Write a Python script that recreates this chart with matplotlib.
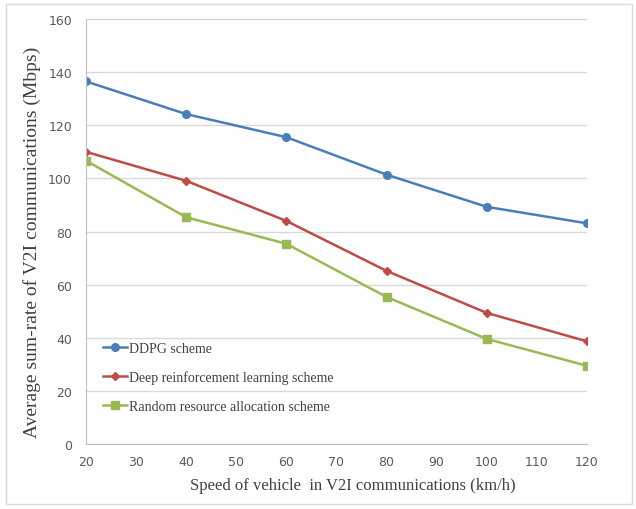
import matplotlib
matplotlib.use("Agg")
import matplotlib.pyplot as plt
from matplotlib.patches import Rectangle

speeds = [20, 40, 60, 80, 100, 120]
ddpg = [136.5, 124.2, 115.5, 101.4, 89.3, 83.1]
drl = [110.0, 99.1, 84.0, 65.2, 49.4, 38.7]
random_alloc = [106.7, 85.4, 75.4, 55.4, 39.6, 29.5]
labels = ["DDPG scheme", "Deep reinforcement learning scheme", "Random resource allocation scheme"]

fig = plt.figure(figsize=(6.36, 5.10), dpi=100)
ax = fig.add_axes([0.135, 0.127, 0.788, 0.834])

fig.patches.append(Rectangle((0.009, 0.01), 0.984, 0.98, transform=fig.transFigure,
                             fill=False, edgecolor="#d9d9d9", linewidth=1))

ax.plot(speeds, ddpg, color="#4a7ebb", marker="o", markersize=5.5, linewidth=1.8, label=labels[0])
ax.plot(speeds, drl, color="#be4b48", marker="D", markersize=4.5, linewidth=1.8, label=labels[1])
ax.plot(speeds, random_alloc, color="#98b954", marker="s", markersize=5.5, linewidth=1.8, label=labels[2])

ax.set_xlim(20, 120)
ax.set_ylim(0, 160)
ax.set_xticks(range(20, 121, 10))
ax.set_yticks(range(0, 161, 20))
ax.yaxis.grid(True, color="#d9d9d9", linewidth=1)
ax.set_axisbelow(True)
for s in ["top", "right"]:
    ax.spines[s].set_visible(False)
for s in ["left", "bottom"]:
    ax.spines[s].set_color("#bfbfbf")
ax.tick_params(axis="both", colors="#bfbfbf", labelcolor="#595959", labelsize=9, length=4)
ax.tick_params(axis="y", length=0, pad=10)
ax.tick_params(axis="x", length=0, pad=8)

ax.set_xlabel("Speed of vehicle  in V2I communications (km/h)", family="Liberation Serif",
              fontsize=12, color="#404040")
ax.set_ylabel("Average sum-rate of V2I communications (Mbps)", family="Liberation Serif",
              fontsize=14, color="#404040")
ax.xaxis.set_label_coords(0.533, -0.076)
ax.yaxis.set_label_coords(-0.09, 0.476)

leg = ax.legend(loc="lower left", bbox_to_anchor=(0.01, 0.045), frameon=False,
                prop={"family": "Liberation Serif", "size": 10}, labelspacing=1.1,
                handlelength=1.7, handletextpad=0.15, borderaxespad=0.5)
for t in leg.get_texts():
    t.set_color("#404040")

fig.savefig("out.png", dpi=100)
